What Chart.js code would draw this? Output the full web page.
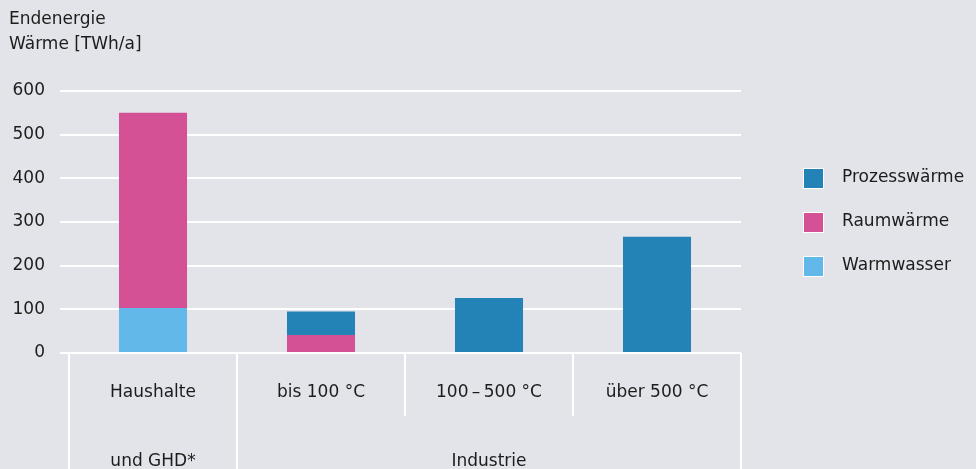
<!DOCTYPE html>
<html>
<head>
<meta charset="utf-8">
<script src="https://cdn.jsdelivr.net/npm/chart.js@4"></script>
<style>
  html, body { margin: 0; padding: 0; background: #e3e4e9; }
  #wrap { width: 976px; height: 469px; position: relative; }
</style>
</head>
<body>
<div id="wrap"><canvas id="chart" width="976" height="469"></canvas></div>
<script>
// Data
const categories = ['Haushalte', 'bis 100 °C', '100\u2009–\u2009500 °C', 'über 500 °C'];
const groups = [
    { label: 'und GHD*', from: 0, to: 0 },
    { label: 'Industrie', from: 1, to: 3 }
];
const prozesswaerme = [0, 54, 126, 266];
const raumwaerme = [447, 41, 0, 0];
const warmwasser = [103, 0, 0, 0];
const yTicks = [0, 100, 200, 300, 400, 500, 600];

const COLORS = {
    PROZESS: '#2383b7',
    RAUM: '#d45196',
    WARM: '#62b9e9',
    GRID: '#ffffff',
    TEXT: '#1c1c1c'
};
const FONT = "'DejaVu Sans', sans-serif";
const FONT_SIZE = 17;

// Draws title, x labels with separators, and legend
const decorPlugin = {
    id: 'decor',
    afterDraw(chart) {
        const ctx = chart.ctx;
        const area = chart.chartArea;
        const x = chart.scales.x;
        const H = chart.height;
        ctx.save();

        // title
        ctx.fillStyle = COLORS.TEXT;
        ctx.font = FONT_SIZE + 'px ' + FONT;
        ctx.textAlign = 'left';
        ctx.textBaseline = 'middle';
        ctx.fillText('Endenergie', 9, 20);
        ctx.fillText('Wärme [TWh/a]', 9, 45);

        // separators
        const step = (area.right - area.left) / categories.length;
        ctx.strokeStyle = COLORS.GRID;
        ctx.lineWidth = 2;
        for (let i = 0; i <= categories.length; i++) {
            const sx = Math.round(area.left + i * step);
            const full = (i === 0 || i === 1 || i === categories.length);
            ctx.beginPath();
            ctx.moveTo(sx, area.bottom);
            ctx.lineTo(sx, full ? H : area.bottom + 63);
            ctx.stroke();
        }

        // category labels
        ctx.fillStyle = COLORS.TEXT;
        ctx.textAlign = 'center';
        categories.forEach((c, i) => {
            ctx.fillText(c, x.getPixelForValue(i), area.bottom + 40);
        });
        groups.forEach(g => {
            const cx = (x.getPixelForValue(g.from) + x.getPixelForValue(g.to)) / 2;
            ctx.fillText(g.label, cx, area.bottom + 109);
        });

        // legend
        const items = [
            { label: 'Prozesswärme', color: COLORS.PROZESS },
            { label: 'Raumwärme', color: COLORS.RAUM },
            { label: 'Warmwasser', color: COLORS.WARM }
        ];
        ctx.textAlign = 'left';
        items.forEach((it, i) => {
            const ly = 178 + i * 44;
            ctx.fillStyle = '#ffffff';
            ctx.fillRect(803, ly - 10, 21, 21);
            ctx.fillStyle = it.color;
            ctx.fillRect(804, ly - 9, 19, 19);
            ctx.fillStyle = COLORS.TEXT;
            ctx.fillText(it.label, 842, ly);
        });
        ctx.restore();
    }
};

new Chart(document.getElementById('chart').getContext('2d'), {
    type: 'bar',
    data: {
        labels: categories,
        datasets: [
            { label: 'Warmwasser', data: warmwasser, backgroundColor: COLORS.WARM, barPercentage: 0.81, categoryPercentage: 0.5 },
            { label: 'Raumwärme', data: raumwaerme, backgroundColor: COLORS.RAUM, barPercentage: 0.81, categoryPercentage: 0.5 },
            { label: 'Prozesswärme', data: prozesswaerme, backgroundColor: COLORS.PROZESS, barPercentage: 0.81, categoryPercentage: 0.5 }
        ]
    },
    options: {
        responsive: false,
        animation: false,
        layout: { padding: { top: 91, right: 235, left: 0, bottom: 0 } },
        plugins: {
            legend: { display: false },
            tooltip: { enabled: false }
        },
        scales: {
            x: {
                stacked: true,
                grid: { display: false },
                border: { display: false },
                ticks: { display: false },
                afterFit(scale) { scale.height = 116; }
            },
            y: {
                stacked: true,
                min: 0,
                max: 600,
                afterBuildTicks(scale) { scale.ticks = yTicks.map(v => ({ value: v })); },
                grid: { color: COLORS.GRID, lineWidth: 2, tickLength: 9 },
                border: { display: false },
                ticks: {
                    color: COLORS.TEXT,
                    font: { family: FONT, size: FONT_SIZE },
                    padding: 15
                },
                afterFit(scale) { scale.width = 69; }
            }
        }
    },
    plugins: [decorPlugin]
});
</script>
</body>
</html>
